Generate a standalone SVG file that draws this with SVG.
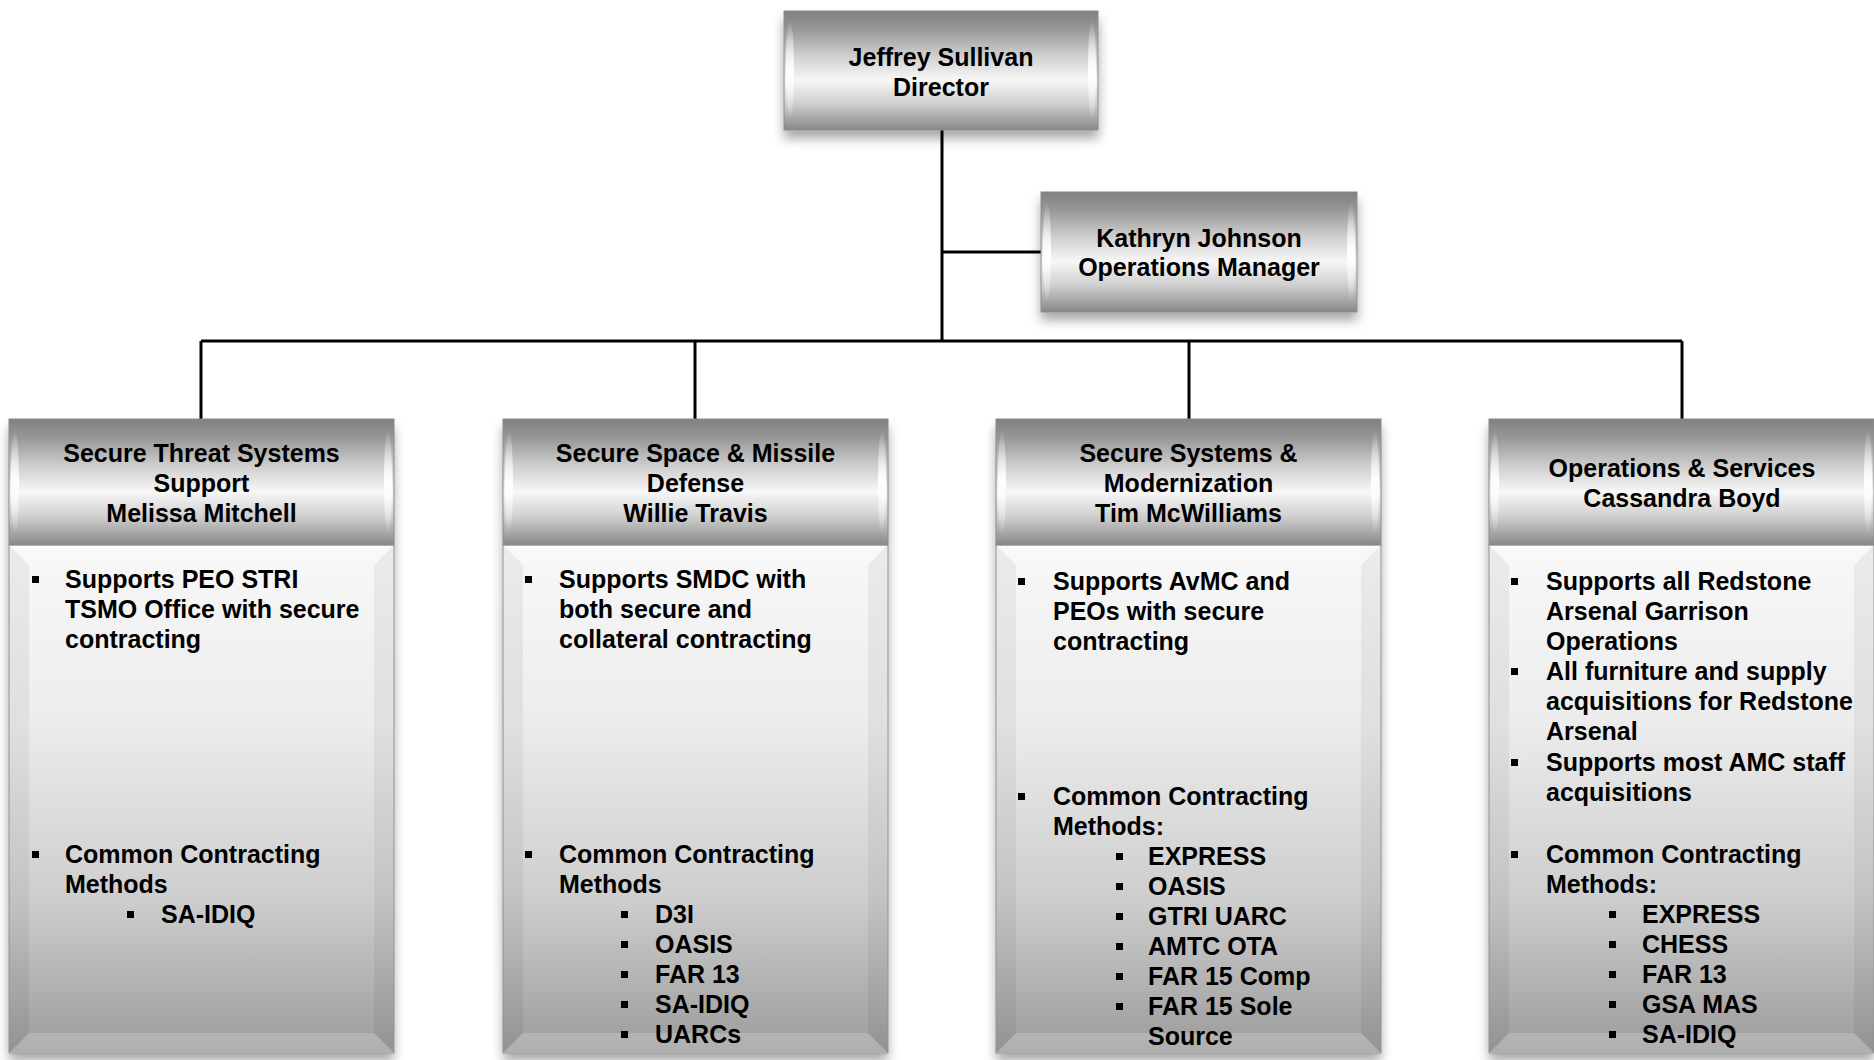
<svg xmlns="http://www.w3.org/2000/svg" width="1874" height="1060" viewBox="0 0 1874 1060">
<defs>
<linearGradient id="hdr" x1="0" y1="0" x2="0" y2="1">
<stop offset="0" stop-color="#808080"/>
<stop offset="0.15" stop-color="#979797"/>
<stop offset="0.38" stop-color="#d0d0d0"/>
<stop offset="0.58" stop-color="#f7f7f7"/>
<stop offset="0.78" stop-color="#cecece"/>
<stop offset="1" stop-color="#888888"/>
</linearGradient>
<linearGradient id="body" x1="0" y1="0" x2="0" y2="1">
<stop offset="0" stop-color="#f8f8f8"/>
<stop offset="0.35" stop-color="#ececec"/>
<stop offset="0.7" stop-color="#cdcdcd"/>
<stop offset="1" stop-color="#9b9b9b"/>
</linearGradient>
<linearGradient id="lens" x1="0" y1="0" x2="0" y2="1">
<stop offset="0" stop-color="#ffffff" stop-opacity="0"/>
<stop offset="0.5" stop-color="#ffffff" stop-opacity="0.95"/>
<stop offset="1" stop-color="#ffffff" stop-opacity="0"/>
</linearGradient>
<filter id="sh" x="-10%" y="-10%" width="120%" height="130%">
<feGaussianBlur in="SourceAlpha" stdDeviation="6"/>
<feOffset dx="0" dy="8" result="b"/>
<feComponentTransfer><feFuncA type="linear" slope="0.35"/></feComponentTransfer>
<feMerge><feMergeNode/><feMergeNode in="SourceGraphic"/></feMerge>
</filter>
<style>
.t{font-family:"Liberation Sans",Arial,sans-serif;font-weight:bold;font-size:25px;fill:#000}
.c{text-anchor:middle}
.hb{fill:url(#hdr);stroke:#8c8c8c;stroke-width:1}
.bb{fill:url(#body);stroke:#9a9a9a;stroke-width:1}
.ln{fill:url(#lens)}
.bl{fill:#ffffff;opacity:0.2}
.bd{fill:#000000;opacity:0.05}
.cn{stroke:#000;stroke-width:3;fill:none}
.bu{fill:#000}
</style>
</defs>
<rect width="1874" height="1060" fill="#ffffff"/>

<g id="connectors">
<path class="cn" d="M942 130 V341"/>
<path class="cn" d="M942 252 H1041"/>
<path class="cn" d="M201 341 H1682"/>
<path class="cn" d="M201 341 V419"/>
<path class="cn" d="M695 341 V419"/>
<path class="cn" d="M1189 341 V419"/>
<path class="cn" d="M1682 341 V419"/>
</g>

<g id="director">
<rect class="hb" x="784" y="11" width="314" height="119" filter="url(#sh)"/>
<ellipse class="ln" cx="790" cy="70" rx="4" ry="50"/>
<ellipse class="ln" cx="1092" cy="70" rx="4" ry="50"/>
<text class="t c" x="941" y="66">Jeffrey Sullivan</text>
<text class="t c" x="941" y="96">Director</text>
</g>

<g id="opsmanager">
<rect class="hb" x="1041" y="192" width="316" height="120" filter="url(#sh)"/>
<ellipse class="ln" cx="1047" cy="252" rx="4" ry="50"/>
<ellipse class="ln" cx="1351" cy="252" rx="4" ry="50"/>
<text class="t c" x="1199" y="247">Kathryn Johnson</text>
<text class="t c" x="1199" y="276">Operations Manager</text>
</g>

<g id="col1">
<rect x="9" y="419" width="385" height="634" fill="#ccc" filter="url(#sh)"/>
<rect class="bb" x="9" y="545" width="385" height="508"/>
<polygon class="bl" points="9,545 394,545 374,565 29,565"/>
<polygon class="bd" points="394,545 394,1053 374,1033 374,565"/>
<polygon class="bd" points="9,545 29,565 29,1033 9,1053"/>
<polygon class="bl" points="9,1053 29,1033 374,1033 394,1053"/>
<rect class="hb" x="9" y="419" width="385" height="126"/>
<ellipse class="ln" cx="15" cy="482" rx="4" ry="52"/>
<ellipse class="ln" cx="388" cy="482" rx="4" ry="52"/>
<text class="t c" x="201.5" y="462">Secure Threat Systems</text>
<text class="t c" x="201.5" y="492">Support</text>
<text class="t c" x="201.5" y="522">Melissa Mitchell</text>
<rect class="bu" x="32" y="576" width="7" height="7"/>
<text class="t" x="65" y="588">Supports PEO STRI</text>
<text class="t" x="65" y="618">TSMO Office with secure</text>
<text class="t" x="65" y="648">contracting</text>
<rect class="bu" x="32" y="851" width="7" height="7"/>
<text class="t" x="65" y="863">Common Contracting</text>
<text class="t" x="65" y="893">Methods</text>
<rect class="bu" x="127" y="911" width="7" height="7"/>
<text class="t" x="161" y="923">SA-IDIQ</text>
</g>

<g id="col2">
<rect x="503" y="419" width="385" height="634" fill="#ccc" filter="url(#sh)"/>
<rect class="bb" x="503" y="545" width="385" height="508"/>
<polygon class="bl" points="503,545 888,545 868,565 523,565"/>
<polygon class="bd" points="888,545 888,1053 868,1033 868,565"/>
<polygon class="bd" points="503,545 523,565 523,1033 503,1053"/>
<polygon class="bl" points="503,1053 523,1033 868,1033 888,1053"/>
<rect class="hb" x="503" y="419" width="385" height="126"/>
<ellipse class="ln" cx="509" cy="482" rx="4" ry="52"/>
<ellipse class="ln" cx="882" cy="482" rx="4" ry="52"/>
<text class="t c" x="695.5" y="462">Secure Space &amp; Missile</text>
<text class="t c" x="695.5" y="492">Defense</text>
<text class="t c" x="695.5" y="522">Willie Travis</text>
<rect class="bu" x="525" y="576" width="7" height="7"/>
<text class="t" x="559" y="588">Supports SMDC with</text>
<text class="t" x="559" y="618">both secure and</text>
<text class="t" x="559" y="648">collateral contracting</text>
<rect class="bu" x="525" y="851" width="7" height="7"/>
<text class="t" x="559" y="863">Common Contracting</text>
<text class="t" x="559" y="893">Methods</text>
<rect class="bu" x="621" y="911" width="7" height="7"/>
<text class="t" x="655" y="923">D3I</text>
<rect class="bu" x="621" y="941" width="7" height="7"/>
<text class="t" x="655" y="953">OASIS</text>
<rect class="bu" x="621" y="971" width="7" height="7"/>
<text class="t" x="655" y="983">FAR 13</text>
<rect class="bu" x="621" y="1001" width="7" height="7"/>
<text class="t" x="655" y="1013">SA-IDIQ</text>
<rect class="bu" x="621" y="1031" width="7" height="7"/>
<text class="t" x="655" y="1043">UARCs</text>
</g>

<g id="col3">
<rect x="996" y="419" width="385" height="634" fill="#ccc" filter="url(#sh)"/>
<rect class="bb" x="996" y="545" width="385" height="508"/>
<polygon class="bl" points="996,545 1381,545 1361,565 1016,565"/>
<polygon class="bd" points="1381,545 1381,1053 1361,1033 1361,565"/>
<polygon class="bd" points="996,545 1016,565 1016,1033 996,1053"/>
<polygon class="bl" points="996,1053 1016,1033 1361,1033 1381,1053"/>
<rect class="hb" x="996" y="419" width="385" height="126"/>
<ellipse class="ln" cx="1002" cy="482" rx="4" ry="52"/>
<ellipse class="ln" cx="1375" cy="482" rx="4" ry="52"/>
<text class="t c" x="1188.5" y="462">Secure Systems &amp;</text>
<text class="t c" x="1188.5" y="492">Modernization</text>
<text class="t c" x="1188.5" y="522">Tim McWilliams</text>
<rect class="bu" x="1018" y="578" width="7" height="7"/>
<text class="t" x="1053" y="590">Supports AvMC and</text>
<text class="t" x="1053" y="620">PEOs with secure</text>
<text class="t" x="1053" y="650">contracting</text>
<rect class="bu" x="1018" y="793" width="7" height="7"/>
<text class="t" x="1053" y="805">Common Contracting</text>
<text class="t" x="1053" y="835">Methods:</text>
<rect class="bu" x="1116" y="853" width="7" height="7"/>
<text class="t" x="1148" y="865">EXPRESS</text>
<rect class="bu" x="1116" y="883" width="7" height="7"/>
<text class="t" x="1148" y="895">OASIS</text>
<rect class="bu" x="1116" y="913" width="7" height="7"/>
<text class="t" x="1148" y="925">GTRI UARC</text>
<rect class="bu" x="1116" y="943" width="7" height="7"/>
<text class="t" x="1148" y="955">AMTC OTA</text>
<rect class="bu" x="1116" y="973" width="7" height="7"/>
<text class="t" x="1148" y="985">FAR 15 Comp</text>
<rect class="bu" x="1116" y="1003" width="7" height="7"/>
<text class="t" x="1148" y="1015">FAR 15 Sole</text>
<text class="t" x="1148" y="1045">Source</text>
</g>

<g id="col4">
<rect x="1489" y="419" width="385" height="634" fill="#ccc" filter="url(#sh)"/>
<rect class="bb" x="1489" y="545" width="385" height="508"/>
<polygon class="bl" points="1489,545 1874,545 1854,565 1509,565"/>
<polygon class="bd" points="1874,545 1874,1053 1854,1033 1854,565"/>
<polygon class="bd" points="1489,545 1509,565 1509,1033 1489,1053"/>
<polygon class="bl" points="1489,1053 1509,1033 1854,1033 1874,1053"/>
<rect class="hb" x="1489" y="419" width="385" height="126"/>
<ellipse class="ln" cx="1495" cy="482" rx="4" ry="52"/>
<ellipse class="ln" cx="1868" cy="482" rx="4" ry="52"/>
<text class="t c" x="1682" y="477">Operations &amp; Services</text>
<text class="t c" x="1682" y="507">Cassandra Boyd</text>
<rect class="bu" x="1511" y="578" width="7" height="7"/>
<text class="t" x="1546" y="590">Supports all Redstone</text>
<text class="t" x="1546" y="620">Arsenal Garrison</text>
<text class="t" x="1546" y="650">Operations</text>
<rect class="bu" x="1511" y="668" width="7" height="7"/>
<text class="t" x="1546" y="680">All furniture and supply</text>
<text class="t" x="1546" y="710">acquisitions for Redstone</text>
<text class="t" x="1546" y="740">Arsenal</text>
<rect class="bu" x="1511" y="759" width="7" height="7"/>
<text class="t" x="1546" y="771">Supports most AMC staff</text>
<text class="t" x="1546" y="801">acquisitions</text>
<rect class="bu" x="1511" y="851" width="7" height="7"/>
<text class="t" x="1546" y="863">Common Contracting</text>
<text class="t" x="1546" y="893">Methods:</text>
<rect class="bu" x="1609" y="911" width="7" height="7"/>
<text class="t" x="1642" y="923">EXPRESS</text>
<rect class="bu" x="1609" y="941" width="7" height="7"/>
<text class="t" x="1642" y="953">CHESS</text>
<rect class="bu" x="1609" y="971" width="7" height="7"/>
<text class="t" x="1642" y="983">FAR 13</text>
<rect class="bu" x="1609" y="1001" width="7" height="7"/>
<text class="t" x="1642" y="1013">GSA MAS</text>
<rect class="bu" x="1609" y="1031" width="7" height="7"/>
<text class="t" x="1642" y="1043">SA-IDIQ</text>
</g>
</svg>
